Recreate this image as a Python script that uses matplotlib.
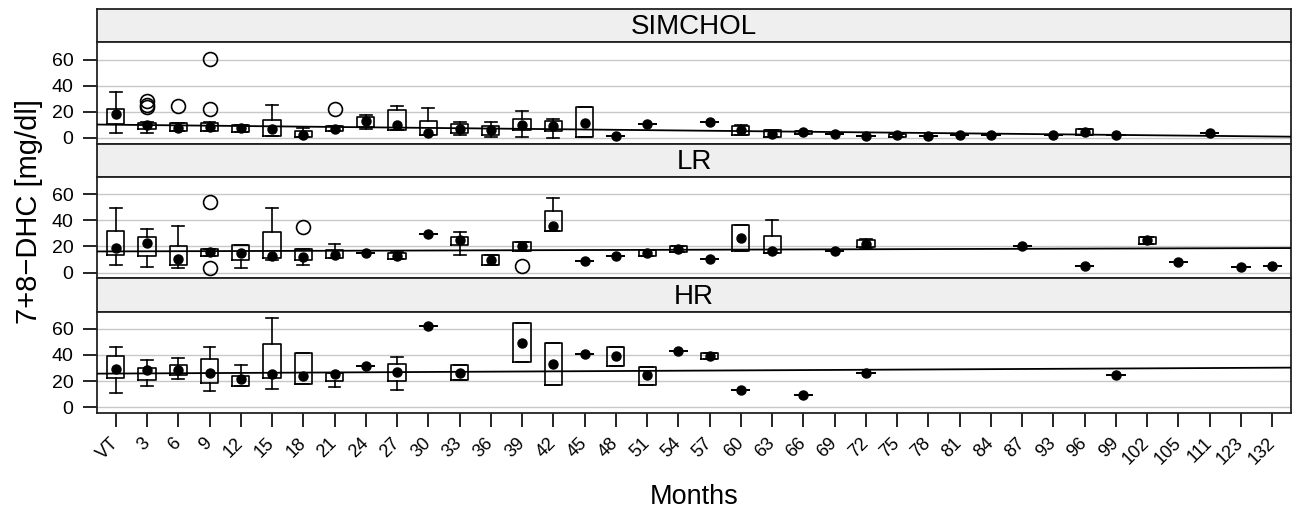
import matplotlib
matplotlib.use("Agg")
import matplotlib.pyplot as plt

plt.rcParams["font.family"] = ["Liberation Sans", "DejaVu Sans"]

months = ["VT", "3", "6", "9", "12", "15", "18", "21", "24", "27", "30", "33",
          "36", "39", "42", "45", "48", "51", "54", "57", "60", "63", "66", "69",
          "72", "75", "78", "81", "84", "87", "93", "96", "99", "102", "105",
          "111", "123", "132"]

# month, whisker low, q1, median, q3, whisker high
simchol_stats = [
    ("VT", 4.1, 10.5, 18.0, 22.3, 35.0), ("3", 4.0, 7.2, 9.7, 11.8, 12.0),
    ("6", 5.0, 5.1, 7.7, 11.5, 11.5), ("9", 5.0, 5.4, 8.5, 11.5, 12.0),
    ("12", 4.6, 4.6, 7.7, 9.7, 9.7), ("15", 1.5, 1.5, 7.2, 14.1, 25.4),
    ("18", 0.8, 0.8, 2.0, 5.1, 7.7), ("21", 5.1, 5.1, 7.2, 9.0, 9.0),
    ("24", 7.2, 8.5, 13.0, 16.2, 17.4), ("27", 5.9, 5.9, 10.3, 21.3, 24.4),
    ("30", 2.0, 2.0, 4.1, 13.0, 22.6), ("33", 2.0, 4.1, 7.2, 10.5, 12.3),
    ("36", 0.8, 2.0, 5.9, 9.0, 12.3), ("39", 0.8, 5.9, 9.7, 14.9, 20.5),
    ("42", 0.0, 5.4, 9.0, 13.0, 14.9), ("45", 0.8, 0.8, 11.8, 23.8, 23.8),
    ("48", 1.3, 1.3, 1.3, 1.3, 1.3), ("51", 10.5, 10.5, 10.5, 10.5, 10.5),
    ("57", 12.3, 12.3, 12.3, 12.3, 12.3), ("60", 2.0, 2.5, 5.9, 9.2, 10.0),
    ("63", 1.0, 1.0, 3.3, 5.9, 5.9), ("66", 3.0, 3.0, 4.6, 5.5, 5.5),
    ("69", 2.8, 2.8, 2.8, 2.8, 2.8), ("72", 1.3, 1.3, 1.3, 1.3, 1.3),
    ("75", 0.8, 0.8, 2.0, 3.3, 3.3), ("78", 1.3, 1.3, 1.3, 1.3, 1.3),
    ("81", 2.6, 2.6, 2.6, 2.6, 2.6), ("84", 2.0, 2.0, 2.0, 2.0, 2.0),
    ("93", 2.0, 2.0, 2.0, 2.0, 2.0), ("96", 2.6, 2.6, 4.9, 7.2, 7.2),
    ("99", 2.6, 2.6, 2.6, 2.6, 2.6), ("111", 3.8, 3.8, 3.8, 3.8, 3.8),
]
simchol_out = [("3", 28.5), ("3", 25.5), ("3", 23.5), ("6", 24.4),
               ("9", 60.3), ("9", 22.0), ("21", 22.3)]

lr_stats = [
    ("VT", 6.1, 13.7, 18.8, 31.9, 49.7), ("3", 4.6, 12.4, 22.6, 27.1, 33.5),
    ("6", 3.5, 6.1, 10.4, 20.5, 35.5), ("9", 12.9, 12.9, 15.7, 18.0, 18.0),
    ("12", 3.5, 9.9, 14.7, 20.8, 20.8), ("15", 10.0, 11.2, 12.9, 30.9, 49.7),
    ("18", 5.6, 9.9, 11.7, 18.3, 18.3), ("21", 11.2, 11.2, 13.7, 17.5, 22.0),
    ("24", 15.0, 15.0, 15.0, 15.0, 15.0), ("27", 10.6, 10.6, 12.4, 15.0, 15.5),
    ("30", 29.4, 29.4, 29.4, 29.4, 29.4), ("33", 13.2, 21.3, 25.1, 27.6, 30.9),
    ("36", 6.1, 6.1, 9.9, 13.7, 13.7), ("39", 16.2, 16.2, 20.0, 23.8, 23.8),
    ("42", 32.2, 32.2, 36.0, 47.1, 57.5), ("45", 9.1, 9.1, 9.1, 9.1, 9.1),
    ("48", 12.4, 12.4, 12.4, 12.4, 12.4), ("51", 12.9, 12.9, 15.0, 17.0, 17.0),
    ("54", 15.5, 15.5, 18.0, 20.0, 20.0), ("57", 10.6, 10.6, 10.6, 10.6, 10.6),
    ("60", 16.2, 16.2, 26.4, 36.5, 36.5), ("63", 15.0, 15.0, 16.2, 28.1, 40.3),
    ("69", 16.2, 16.2, 16.2, 16.2, 16.2), ("72", 18.8, 19.5, 22.1, 24.8, 25.6),
    ("87", 20.5, 20.5, 20.5, 20.5, 20.5), ("96", 4.8, 4.8, 4.8, 4.8, 4.8),
    ("102", 22.1, 22.1, 25.1, 27.6, 27.6), ("105", 8.1, 8.1, 8.1, 8.1, 8.1),
    ("123", 4.3, 4.3, 4.3, 4.3, 4.3), ("132", 4.8, 4.8, 4.8, 4.8, 4.8),
]
lr_out = [("9", 53.7), ("9", 3.5), ("18", 35.2), ("39", 4.8)]

hr_stats = [
    ("VT", 11.2, 22.2, 29.0, 39.2, 46.4), ("3", 16.3, 20.9, 28.5, 30.3, 36.4),
    ("6", 21.9, 24.5, 28.5, 32.4, 37.5), ("9", 12.5, 18.9, 26.5, 36.7, 45.9),
    ("12", 16.3, 16.3, 21.4, 24.0, 32.4), ("15", 13.8, 22.2, 25.7, 48.2, 68.6),
    ("18", 17.6, 17.6, 24.0, 41.3, 41.8), ("21", 15.8, 20.1, 25.2, 26.5, 26.5),
    ("24", 31.6, 31.6, 31.6, 31.6, 31.6), ("27", 13.0, 20.1, 27.0, 32.9, 38.7),
    ("30", 61.9, 61.9, 61.9, 61.9, 61.9), ("33", 20.9, 20.9, 26.5, 32.1, 32.1),
    ("39", 34.9, 34.9, 49.4, 64.2, 64.2), ("42", 16.8, 16.8, 32.9, 49.4, 49.4),
    ("45", 40.8, 40.8, 40.8, 40.8, 40.8), ("48", 31.6, 31.6, 39.2, 45.9, 45.9),
    ("51", 16.8, 16.8, 24.5, 30.8, 30.8), ("54", 43.1, 43.1, 43.1, 43.1, 43.1),
    ("57", 37.2, 37.2, 39.2, 41.3, 41.3), ("60", 13.3, 13.3, 13.3, 13.3, 13.3),
    ("66", 9.4, 9.4, 9.4, 9.4, 9.4), ("72", 26.0, 26.0, 26.0, 26.0, 26.0),
    ("99", 24.5, 24.5, 24.5, 24.5, 24.5),
]
hr_out = []

# fitted trend line, value at left and right panel edge
simchol_trend = (10.3, 1.0)
lr_trend = (16.2, 18.8)
hr_trend = (25.7, 30.3)

panels = [("SIMCHOL", simchol_stats, simchol_out, simchol_trend),
          ("LR", lr_stats, lr_out, lr_trend),
          ("HR", hr_stats, hr_out, hr_trend)]

W, H = 1293, 518
fig = plt.figure(figsize=(W / 100, H / 100), dpi=100)

left, right = 97, 1291
top = 9
strip_h, plot_h = 33.3, 101.3
xlim = (-0.6, len(months) - 1 + 0.6)
edge = "#222222"

for k, (name, stats, outl, trend) in enumerate(panels):
    y0 = top + k * (strip_h + plot_h)
    sax = fig.add_axes([left / W, 1 - (y0 + strip_h) / H, (right - left) / W, strip_h / H])
    sax.set_facecolor("#efefef")
    sax.set_xticks([])
    sax.set_yticks([])
    for s in sax.spines.values():
        s.set_color(edge)
        s.set_linewidth(1.3)
    sax.text(0.5, 0.45, name, transform=sax.transAxes, ha="center", va="center", fontsize=20)

    ax = fig.add_axes([left / W, 1 - (y0 + strip_h + plot_h) / H, (right - left) / W, plot_h / H])
    for s in ax.spines.values():
        s.set_color(edge)
        s.set_linewidth(1.3)
    for g in [0, 20, 40, 60]:
        ax.axhline(g, color="#c8c8c8", lw=1.0, zorder=0)

    bstats = []
    pos = []
    for m, lo, q1, med, q3, hi in stats:
        fl = [v for mm, v in outl if mm == m]
        bstats.append(dict(whislo=lo, q1=q1, med=med, q3=q3, whishi=hi, fliers=fl))
        pos.append(months.index(m))
    line = dict(color="black", linewidth=1.2)
    ax.bxp(bstats, positions=pos, widths=0.55, capwidths=0.38,
           boxprops=line, whiskerprops=line, capprops=line,
           medianprops=dict(visible=False),
           flierprops=dict(marker="o", markerfacecolor="none", markeredgecolor="black",
                           markersize=10, markeredgewidth=1.2),
           manage_ticks=False)
    ax.plot(pos, [s[3] for s in stats], "o", color="black", ms=6.5, zorder=5)
    ax.plot(xlim, trend, color="black", lw=1.3, zorder=4)

    ax.set_xlim(xlim)
    ax.set_ylim(-4.3, 73.3)
    ax.set_yticks([0, 20, 40, 60])
    ax.tick_params(axis="y", direction="out", length=10, width=1.2, labelsize=14, pad=7)
    if k == len(panels) - 1:
        ax.set_xticks(range(len(months)))
        ax.set_xticklabels(months)
        ax.tick_params(axis="x", direction="out", length=10, width=1.2, labelsize=13, pad=10)
        plt.setp(ax.get_xticklabels(), rotation=45, ha="right", va="center", rotation_mode="anchor")
    else:
        ax.set_xticks([])

fig.text(29 / W, 1 - 211 / H, "7+8\u2212DHC [mg/dl]", rotation=90, ha="center", va="center", fontsize=21)
fig.text(694 / W, 1 - 497 / H, "Months", ha="center", va="center", fontsize=19.5)

fig.savefig("out.png", dpi=100)
